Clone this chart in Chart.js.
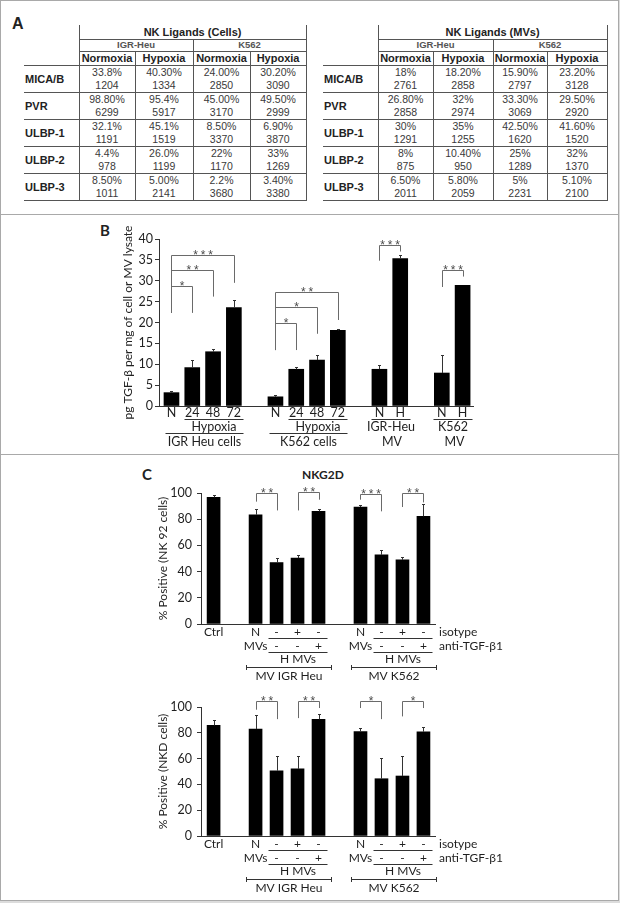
<!DOCTYPE html>
<html lang="en">
<head>
<meta charset="utf-8">
<title>NK ligands, TGF-β and NKG2D</title>
<script src="https://cdn.jsdelivr.net/npm/chart.js@4.4.1/dist/chart.umd.min.js"></script>
<style>
  html, body { margin: 0; padding: 0; background: #fff; }
  #fig { position: relative; width: 620px; height: 903px; background: #dcdcdc; overflow: hidden;
         font-family: "Liberation Sans", Arial, sans-serif; color: #222; }
  .panel { position: absolute; left: 0; width: 619px; box-sizing: border-box;
           background: #fff; border: 1px solid #a9a9a9; }
  .tag { position: absolute; font-weight: bold; line-height: 1; white-space: nowrap; }
  canvas { position: absolute; }

  table.lig { position: absolute; top: 25px; border-collapse: collapse; table-layout: fixed; }
  table.lig td { padding: 0; text-align: center; vertical-align: middle; white-space: nowrap; overflow: hidden; }
  table.lig td.t1 { font: bold 11px "Liberation Sans", Arial, sans-serif; line-height: 12px;
                    border-left: 1px solid #555; border-right: 1px solid #555; border-bottom: 1px solid #555; }
  table.lig td.t2 { font: bold 9.5px "Liberation Sans", Arial, sans-serif; line-height: 10px; color: #555;
                    border: 1px solid #555; }
  table.lig td.t3 { font: bold 11px "Liberation Sans", Arial, sans-serif; line-height: 12px;
                    border: 1px solid #555; }
  table.lig td.lab { font: bold 11px "Liberation Sans", Arial, sans-serif; text-align: left; padding-left: 1px;
                     border-top: 1px solid #555; border-bottom: 1px solid #555; border-right: 1px solid #555; }
  table.lig td.lab3 { border-bottom: 1px solid #555; }
  table.lig td.val { font: 10.5px "Liberation Sans", Arial, sans-serif; line-height: 13px; color: #3a3a3a;
                     border: 1px solid #555; }
</style>
</head>
<body>
<div id="fig">
  <div class="panel" style="top:0;height:215px"></div>
  <div class="panel" style="top:214px;height:241px"></div>
  <div class="panel" style="top:454px;height:447px"></div>

  <div class="tag" style="left:12px;top:16px;font-size:16px">A</div>
  <table class="lig" id="tabCells" style="left:24px"></table>
  <table class="lig" id="tabMVs" style="left:323px"></table>

  <div class="tag" style="left:100px;top:223px;font-size:15px;font-family:Lato,sans-serif">B</div>
  <canvas id="chartB" width="380" height="225" style="left:114px;top:225px"></canvas>

  <div class="tag" style="left:142px;top:467px;font-size:15px;font-family:Lato,sans-serif">C</div>
  <div class="tag" style="left:302px;top:469px;font-size:12px;font-family:Lato,sans-serif">NKG2D</div>
  <canvas id="chartC1" width="360" height="205" style="left:150px;top:480px"></canvas>
  <canvas id="chartC2" width="360" height="207" style="left:150px;top:690px"></canvas>
</div>

<script>
// ---------------- Panel A: ligandos NK (% positivas / MFI) ----------------
const ligRows = ["MICA/B", "PVR", "ULBP-1", "ULBP-2", "ULBP-3"];
const ligLines = ["IGR-Heu", "K562"];
const ligConds = ["Normoxia", "Hypoxia", "Normoxia", "Hypoxia"];

const cellPct = [
  ["33.8%", "40.30%", "24.00%", "30.20%"],
  ["98.80%", "95.4%", "45.00%", "49.50%"],
  ["32.1%", "45.1%", "8.50%", "6.90%"],
  ["4.4%", "26.0%", "22%", "33%"],
  ["8.50%", "5.00%", "2.2%", "3.40%"],
];
const cellMfi = [
  [1204, 1334, 2850, 3090],
  [6299, 5917, 3170, 2999],
  [1191, 1519, 3370, 3870],
  [978, 1199, 1170, 1269],
  [1011, 2141, 3680, 3380],
];
const mvPct = [
  ["18%", "18.20%", "15.90%", "23.20%"],
  ["26.80%", "32%", "33.30%", "29.50%"],
  ["30%", "35%", "42.50%", "41.60%"],
  ["8%", "10.40%", "25%", "32%"],
  ["6.50%", "5.80%", "5%", "5.10%"],
];
const mvMfi = [
  [2761, 2858, 2797, 3128],
  [2858, 2974, 3069, 2920],
  [1291, 1255, 1620, 1520],
  [875, 950, 1289, 1370],
  [2011, 2059, 2231, 2100],
];

// ---------------- Panel B: TGF-β ----------------
const bLabels = ["N", "24", "48", "72", "", "N", "24", "48", "72", "", "N", "H", "", "N", "H"];
const bValues = [3.2, 9.2, 13.0, 23.6, null, 2.2, 8.8, 11.0, 18.1, null, 8.8, 35.3, null, 7.9, 28.9];
const bErrors = [0.4, 1.7, 0.7, 1.7, null, 0.4, 0.6, 1.2, 0.3, null, 1.0, 0.8, null, 4.2, 0];
// [desde, hasta, texto, con línea]
const bSub = [[1, 3, "Hypoxia"], [6, 8, "Hypoxia"], [10, 11, "IGR-Heu"], [13, 14, "K562"]];
const bGroups = [[0, 3, "IGR Heu cells"], [5, 8, "K562 cells"], [10, 11, "MV", false], [13, 14, "MV", false]];
// [desde, hasta, nivel, pie izq., pie der., estrellas]
const bSig = [
  [0, 1, 28.8, 22.3, 22.3, "*"],
  [0, 2, 32.6, 22.3, 26.2, "**"],
  [0, 3, 36.2, 22.3, 29.5, "***"],
  [5, 6, 19.9, 13.4, 13.4, "*"],
  [5, 7, 23.7, 13.4, 17.3, "*"],
  [5, 8, 27.2, 13.4, 20.6, "**"],
  [10, 11, 38.6, 34.8, 37.0, "***"],
  [13, 14, 32.5, 28.5, 31.0, "***"],
];

// ---------------- Panel C: NKG2D ----------------
const cIsotype = ["Ctrl", "", "N", "-", "+", "-", "", "N", "-", "+", "-"];
const cAnti = ["", "", "MVs", "-", "-", "+", "", "MVs", "-", "-", "+"];
const cRowNames = ["isotype", "anti-TGF-β1"];
const cSub = [[3, 5, "H MVs"], [8, 10, "H MVs"]];
const cGroups = [[2, 5, "MV IGR Heu"], [7, 10, "MV K562"]];

const c1Values = [96.7, null, 83.4, 46.9, 50.3, 86.0, null, 89.3, 52.8, 49.0, 82.2];
const c1Errors = [2.0, null, 4.4, 3.4, 2.5, 1.8, null, 1.8, 3.8, 2.0, 9.6];
const c1Sig = [
  [2, 3, 100, 93.4, 86.7, "**"],
  [4, 5, 100.5, 86.7, 94.9, "**"],
  [7, 8, 99.5, 94.9, 86.0, "***"],
  [9, 10, 100, 89.3, 92.8, "**"],
];

const c2Values = [85.7, null, 82.9, 50.6, 52.0, 90.4, null, 81.0, 44.4, 46.5, 80.8];
const c2Errors = [3.9, null, 11.1, 11.5, 10.1, 4.1, null, 2.6, 15.9, 15.6, 3.6];
const c2Sig = [
  [2, 3, 104.4, 97.9, 90.6, "**"],
  [4, 5, 104.4, 91.4, 99.2, "**"],
  [7, 8, 104.4, 99.2, 90.6, "*"],
  [9, 10, 104.4, 92.7, 99.2, "*"],
];

// ---------------- Tablas ----------------
function buildTable(el, title, widths, pct, mfi) {
  const cols = widths.map((w) => `<col style="width:${w}px">`).join("");
  let html = `<colgroup>${cols}</colgroup>`;
  html += `<tr style="height:14px"><td></td><td class="t1" colspan="4">${title}</td></tr>`;
  html += `<tr style="height:12px"><td></td>` +
    ligLines.map((l) => `<td class="t2" colspan="2">${l}</td>`).join("") + `</tr>`;
  html += `<tr style="height:14px"><td class="lab3"></td>` +
    ligConds.map((c) => `<td class="t3">${c}</td>`).join("") + `</tr>`;
  ligRows.forEach((r, i) => {
    html += `<tr style="height:27px"><td class="lab">${r}</td>` +
      pct[i].map((p, j) => `<td class="val">${p}<br>${mfi[i][j]}</td>`).join("") + `</tr>`;
  });
  el.style.width = widths.reduce((a, b) => a + b, 0) + "px";
  el.innerHTML = html;
}
buildTable(document.getElementById("tabCells"), "NK Ligands (Cells)", [55, 56, 58, 57, 56], cellPct, cellMfi);
buildTable(document.getElementById("tabMVs"), "NK Ligands (MVs)", [55, 55, 60, 54, 60], mvPct, mvMfi);

// ---------------- Gráficos ----------------
Chart.defaults.font.family = "Lato, 'Open Sans', sans-serif";
Chart.defaults.color = "#1f1f1f";

function seg(ctx, x0, y0, x1, y1) {
  ctx.beginPath();
  ctx.moveTo(x0, y0);
  ctx.lineTo(x1, y1);
  ctx.stroke();
}

// Barras de error, corchetes de significancia y rótulos del eje x en varios niveles.
function annot(cfg) {
  return {
    id: "annot",
    afterDraw(chart) {
      const { ctx, scales: { x, y }, chartArea } = chart;
      const px = (i) => x.getPixelForValue(i);
      const py = (v) => y.getPixelForValue(v);
      const axisY = py(0);
      const r = (v) => Math.round(v) + 0.5;
      ctx.save();
      ctx.lineWidth = 1;

      // error bars (solo hacia arriba)
      ctx.strokeStyle = "#333";
      cfg.values.forEach((v, i) => {
        const e = cfg.errors[i];
        if (v == null || !e) return;
        const cx = r(px(i));
        seg(ctx, cx, py(v), cx, r(py(v + e)));
        seg(ctx, cx - 1.5, r(py(v + e)), cx + 1.5, r(py(v + e)));
      });

      // corchetes
      ctx.strokeStyle = "#6a6a6a";
      ctx.fillStyle = "#4a4a4a";
      ctx.font = "12px 'Liberation Sans'";
      ctx.textAlign = "center";
      ctx.textBaseline = "alphabetic";
      cfg.sig.forEach(([a, b, top, yl, yr, stars]) => {
        const x0 = r(px(a)), x1 = r(px(b)), yt = r(py(top));
        ctx.beginPath();
        ctx.moveTo(x0, py(yl));
        ctx.lineTo(x0, yt);
        ctx.lineTo(x1, yt);
        ctx.lineTo(x1, py(yr));
        ctx.stroke();
        const n = stars.length, mid = (x0 + x1) / 2;
        for (let k = 0; k < n; k++) {
          ctx.fillText("*", mid + (k - (n - 1) / 2) * 7.5, yt + 3);
        }
      });

      // rótulos por barra
      ctx.fillStyle = "#1f1f1f";
      ctx.strokeStyle = "#333";
      ctx.font = cfg.labelFont;
      ctx.textBaseline = "middle";
      cfg.rows.forEach((row) => {
        ctx.textAlign = "center";
        row.texts.forEach((t, i) => { if (t) ctx.fillText(t, px(i), axisY + row.dy); });
        if (row.name) {
          ctx.textAlign = "left";
          ctx.fillText(row.name, chartArea.right + 4, axisY + row.dy);
        }
      });

      // niveles agrupados
      ctx.textAlign = "center";
      cfg.levels.forEach((lv) => {
        lv.spans.forEach(([a, b, text, line]) => {
          const x0 = r(px(a - lv.extL)), x1 = r(px(b + lv.extR));
          if (line !== false) {
            const ly = r(axisY + lv.lineDy);
            seg(ctx, x0, ly, x1, ly);
            if (lv.caps) {
              seg(ctx, x0, ly - 2.5, x0, ly + 2.5);
              seg(ctx, x1, ly - 2.5, x1, ly + 2.5);
            }
          }
          if (text && lv.textDy != null) ctx.fillText(text, (x0 + x1) / 2, axisY + lv.textDy);
        });
      });
      ctx.restore();
    },
  };
}

function barChart(id, o) {
  return new Chart(document.getElementById(id), {
    type: "bar",
    data: {
      datasets: [{
        data: o.values.map((v, i) => ({ x: i, y: v })).filter((p) => p.y != null),
        backgroundColor: "#000",
        borderWidth: 0,
        barThickness: o.barW,
      }],
    },
    options: {
      responsive: false,
      animation: false,
      events: [],
      layout: { padding: o.pad },
      plugins: { legend: { display: false }, tooltip: { enabled: false } },
      scales: {
        x: {
          type: "linear", min: o.xMin, max: o.xMax, offset: false,
          ticks: { display: false }, grid: { display: false },
          border: { color: "#333", width: 1 },
          afterFit: (s) => { s.height = o.xH; },
        },
        y: {
          min: 0, max: o.yMax,
          ticks: { stepSize: o.yStep, padding: o.tickPad, font: { size: 12.5 }, color: "#1f1f1f" },
          grid: { drawOnChartArea: false, tickLength: 4, color: "#333" },
          border: { color: "#333", width: 1 },
          title: { display: true, text: o.yTitle, font: { size: 12 }, color: "#222",
                   padding: { top: o.titlePad, bottom: 0 } },
          afterFit: (s) => { s.width = o.yW; },
        },
      },
    },
    plugins: [annot(o.annot)],
  });
}

barChart("chartB", {
  values: bValues, barW: 15, xMin: -0.6, xMax: 14.5,
  yMax: 40, yStep: 5, yW: 45, xH: 44, tickPad: 2, titlePad: 7,
  pad: { top: 14, right: 21, bottom: 0, left: 0 },
  yTitle: "pg TGF-β per mg of cell or MV lysate",
  annot: {
    values: bValues, errors: bErrors, sig: bSig, labelFont: "12.5px Lato",
    rows: [{ dy: 7, texts: bLabels }],
    levels: [
      { spans: bSub, lineDy: 13, textDy: 21, extL: 0.4, extR: 0.46 },
      { spans: bGroups, lineDy: 27, textDy: 36, extL: 0.3, extR: 0.46 },
    ],
  },
});

function cAnnot(values, errors, sig) {
  return {
    values, errors, sig, labelFont: "12px Lato",
    rows: [
      { dy: 8, texts: cIsotype, name: cRowNames[0] },
      { dy: 22, texts: cAnti, name: cRowNames[1] },
    ],
    levels: [
      { spans: cSub.map(([a, b]) => [a, b, ""]), lineDy: 14, extL: 0.4, extR: 0.4 },
      { spans: cSub, lineDy: 28, textDy: 35.5, extL: 0.4, extR: 0.4 },
      { spans: cGroups, lineDy: 43, textDy: 52, extL: 0.45, extR: 0.58, caps: true },
    ],
  };
}

barChart("chartC1", {
  values: c1Values, barW: 13, xMin: -0.6, xMax: 10.55,
  yMax: 100, yStep: 20, yW: 51, xH: 61, tickPad: 5, titlePad: 6,
  pad: { top: 13, right: 75, bottom: 0, left: 0 },
  yTitle: "% Positive (NK 92 cells)",
  annot: cAnnot(c1Values, c1Errors, c1Sig),
});

barChart("chartC2", {
  values: c2Values, barW: 13, xMin: -0.6, xMax: 10.55,
  yMax: 100, yStep: 20, yW: 51, xH: 61, tickPad: 5, titlePad: 6,
  pad: { top: 17, right: 75, bottom: 0, left: 0 },
  yTitle: "% Positive (NKD cells)",
  annot: cAnnot(c2Values, c2Errors, c2Sig),
});
</script>
</body>
</html>
